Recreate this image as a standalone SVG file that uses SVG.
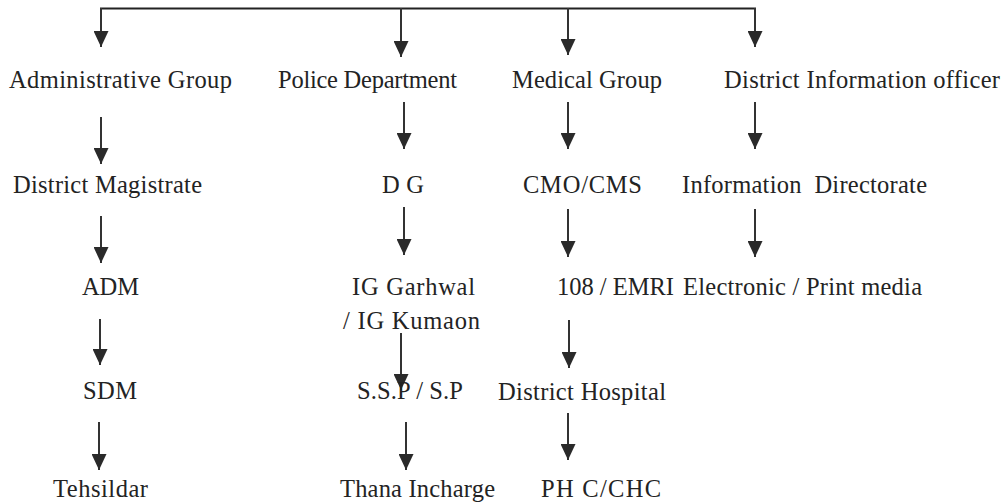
<svg xmlns="http://www.w3.org/2000/svg" width="1003" height="502" viewBox="0 0 1003 502">
<style>
.c{stroke:#333;stroke-width:2;fill:none}
.t{stroke:#222;stroke-width:2;fill:none}
</style>
<defs>
<marker id="ah" markerUnits="userSpaceOnUse" markerWidth="16" markerHeight="15" refX="16" refY="7.5" orient="auto" viewBox="0 0 16 15">
<path d="M0,0 L16,7.5 L0,15 z" fill="#2a2a2a"/>
</marker>
</defs>
<rect width="1003" height="502" fill="#fff"/>
<g id="connectors">
<path class="t" d="M100,8.5 H756"/>
<g class="c" marker-end="url(#ah)">
<line x1="101" y1="8" x2="101" y2="47"/>
<line x1="401" y1="8" x2="401" y2="57"/>
<line x1="568" y1="8" x2="568" y2="55"/>
<line x1="755" y1="8" x2="755" y2="47"/>
<line x1="101" y1="117" x2="101" y2="164"/>
<line x1="404" y1="102" x2="404" y2="149"/>
<line x1="568" y1="102" x2="568" y2="149"/>
<line x1="755" y1="102" x2="755" y2="149"/>
<line x1="101" y1="216" x2="101" y2="263"/>
<line x1="404" y1="207" x2="404" y2="255"/>
<line x1="568" y1="209" x2="568" y2="257"/>
<line x1="755" y1="209" x2="755" y2="257"/>
<line x1="100" y1="319" x2="100" y2="365"/>
<line x1="401" y1="333" x2="401" y2="390"/>
<line x1="569" y1="320" x2="569" y2="368"/>
<line x1="99" y1="422" x2="99" y2="470"/>
<line x1="406" y1="422" x2="406" y2="470"/>
<line x1="568" y1="413" x2="568" y2="460"/>
</g>
</g>
<g font-family="Liberation Serif" font-size="24.5" fill="#232323">
<g id="admin-group"><text x="9" y="88" textLength="223" lengthAdjust="spacing">Administrative Group</text></g>
<g id="police-dept"><text x="278" y="88" textLength="179" lengthAdjust="spacing">Police Department</text></g>
<g id="medical-group"><text x="512" y="88" textLength="150" lengthAdjust="spacing">Medical Group</text></g>
<g id="dio"><text x="724" y="88" textLength="276" lengthAdjust="spacing">District Information officer</text></g>
<g id="dm"><text x="13" y="193" textLength="189" lengthAdjust="spacing">District Magistrate</text></g>
<g id="dg"><text x="382" y="193" textLength="42" lengthAdjust="spacing">D G</text></g>
<g id="cmo"><text x="523" y="193" textLength="119" lengthAdjust="spacing">CMO/CMS</text></g>
<g id="info-dir"><text x="682" y="193" textLength="245" lengthAdjust="spacing" xml:space="preserve">Information  Directorate</text></g>
<g id="adm"><text x="82" y="295" textLength="57" lengthAdjust="spacing">ADM</text></g>
<g id="ig"><text x="352" y="295" textLength="123" lengthAdjust="spacing">IG Garhwal</text><text x="343" y="329" textLength="137" lengthAdjust="spacing">/ IG Kumaon</text></g>
<g id="emri"><text x="557" y="295" textLength="117" lengthAdjust="spacing">108 / EMRI</text></g>
<g id="media"><text x="683" y="295" textLength="239" lengthAdjust="spacing">Electronic / Print media</text></g>
<g id="sdm"><text x="83" y="399" textLength="54" lengthAdjust="spacing">SDM</text></g>
<g id="ssp"><text x="357" y="399" textLength="106" lengthAdjust="spacing">S.S.P / S.P</text></g>
<g id="district-hospital"><text x="498" y="400" textLength="168" lengthAdjust="spacing">District Hospital</text></g>
<g id="tehsildar"><text x="53" y="497" textLength="95" lengthAdjust="spacing">Tehsildar</text></g>
<g id="thana"><text x="340" y="497" textLength="155" lengthAdjust="spacing">Thana Incharge</text></g>
<g id="phc"><text x="541" y="497" textLength="120" lengthAdjust="spacing">PH C/CHC</text></g>
</g>
</svg>
